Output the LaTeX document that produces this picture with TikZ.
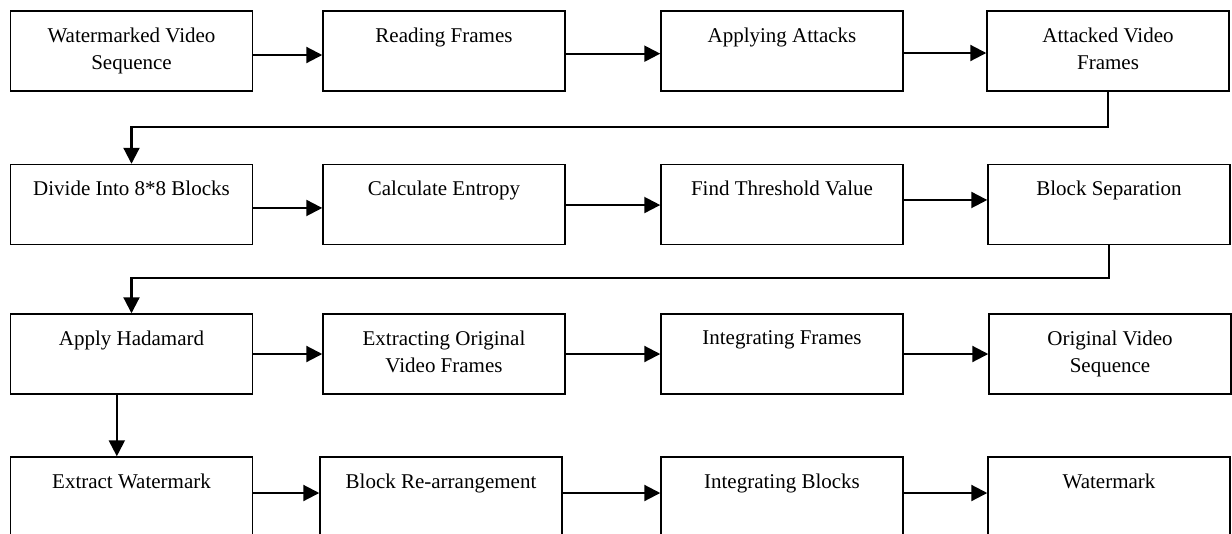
\documentclass[tikz,border=0pt]{standalone}
\usepackage{fontspec}
\setmainfont{Liberation Serif}
\usetikzlibrary{arrows.meta}

\tikzset{
  txt/.style={anchor=north, yshift=-13pt, inner sep=0pt, align=center,
    font=\fontsize{15.75}{20.25}\selectfont},
  box/.style={draw, line width=1.1pt, minimum width=181.5pt, minimum height=60pt,
    inner sep=0pt, label={[txt]north:#1}},
  arr/.style={line width=1.6pt, -{Triangle[length=12pt,width=12pt]}}
}

\begin{document}
\begin{tikzpicture}[x=0.75pt,y=-0.75pt]

\useasboundingbox (0,0) rectangle (1232,533);
\clip (0,0) rectangle (1232,533);

\node[box={Watermarked Video\\Sequence}] (wvs) at (131.5,51) {};
\node[box={Reading Frames}] (rdf) at (444,51) {};
\node[box={Applying Attacks}] (apa) at (782,51) {};
\node[box={Attacked Video\\Frames}] (avf) at (1108,51) {};

\node[box={Divide Into 8*8 Blocks}] (div) at (131.5,204.5) {};
\node[box={Calculate Entropy}] (ent) at (444,204.5) {};
\node[box={Find Threshold Value}] (thr) at (782,204.5) {};
\node[box={Block Separation}] (bsp) at (1109,204.5) {};

\node[box={Apply Hadamard}] (had) at (131.5,354) {};
\node[box={Extracting Original\\Video Frames}] (eof) at (444,354) {};
\node[box={Integrating Frames}] (inf) at (782,354) {};
\node[box={Original Video\\Sequence}] (ovs) at (1110,354) {};

\node[box={Extract Watermark}] (exw) at (131.5,497) {};
\node[box={Block Re-arrangement}] (bra) at (441,497) {};
\node[box={Integrating Blocks}] (inb) at (782,497) {};
\node[box={Watermark}] (wmk) at (1109,497) {};

\draw[arr] ([yshift=-3pt]wvs.east) -- ([yshift=-3pt]rdf.west);
\draw[arr] ([yshift=-2pt]rdf.east) -- ([yshift=-2pt]apa.west);
\draw[arr] ([yshift=-1.5pt]apa.east) -- ([yshift=-1.5pt]avf.west);
\draw[arr] (avf.south) -- ++(0,35) -| (div.north);

\draw[arr] ([yshift=-2.6pt]div.east) -- ([yshift=-2.6pt]ent.west);
\draw[arr] ([yshift=-0.4pt]ent.east) -- ([yshift=-0.4pt]thr.west);
\draw[arr] ([yshift=3.4pt]thr.east) -- ([yshift=3.4pt]bsp.west);
\draw[arr] (bsp.south) -- ++(0,33) -| (had.north);

\draw[arr] (had.east) -- (eof.west);
\draw[arr] (eof.east) -- (inf.west);
\draw[arr] (inf.east) -- (ovs.west);
\draw[arr] ([xshift=-11pt]had.south) -- ([xshift=-11pt]exw.north);

\draw[arr] ([yshift=3pt]exw.east) -- ([yshift=3pt]bra.west);
\draw[arr] ([yshift=3pt]bra.east) -- ([yshift=3pt]inb.west);
\draw[arr] ([yshift=3pt]inb.east) -- ([yshift=3pt]wmk.west);

\end{tikzpicture}
\end{document}
